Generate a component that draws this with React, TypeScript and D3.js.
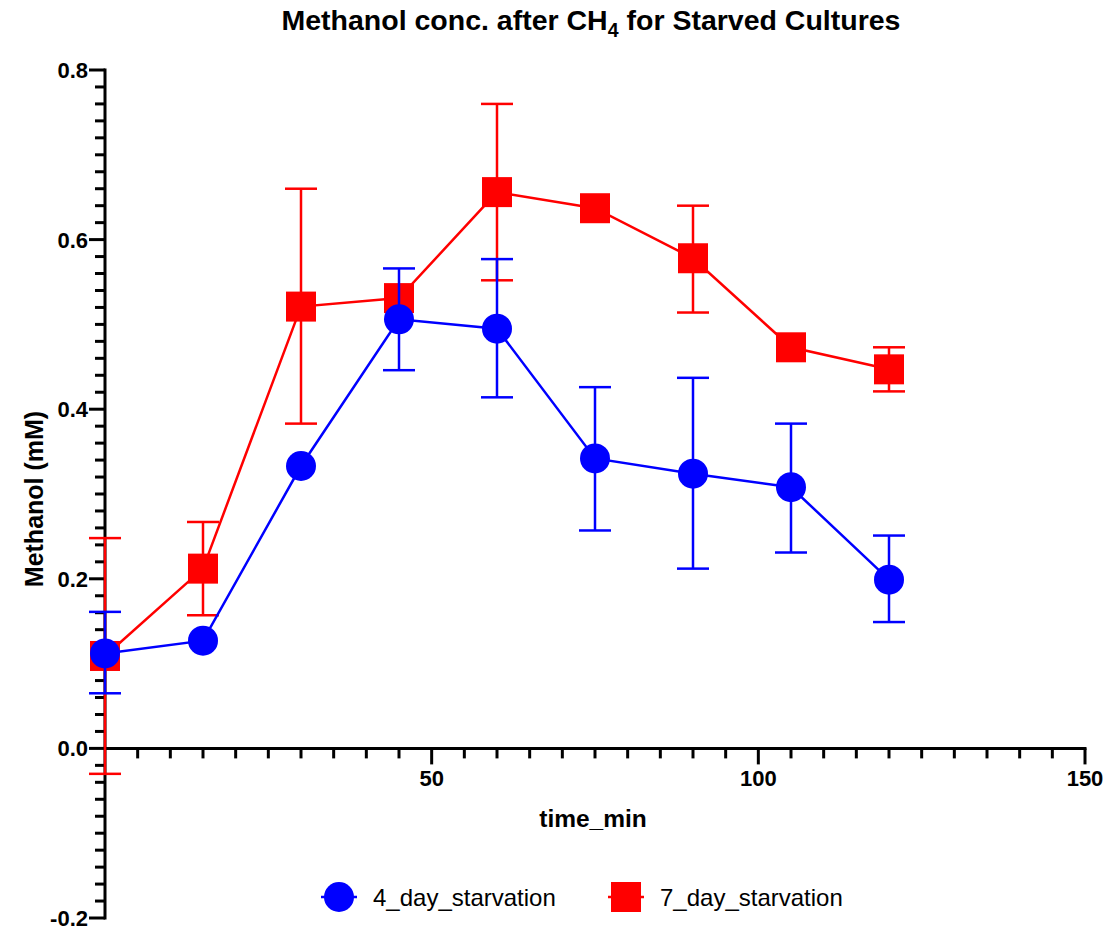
import React from 'react';
import * as d3 from 'd3';

// time points (min)
const times = [0, 15, 30, 45, 60, 75, 90, 105, 120];

// 4 day starvation: mean + error bar limits
const day4Mean = [0.112, 0.127, 0.333, 0.506, 0.495, 0.342, 0.324, 0.308, 0.199];
const day4Low = [0.065, 0.127, 0.333, 0.446, 0.414, 0.257, 0.212, 0.231, 0.149];
const day4High = [0.161, 0.127, 0.333, 0.566, 0.577, 0.426, 0.437, 0.383, 0.251];

// 7 day starvation
const day7Mean = [0.109, 0.212, 0.521, 0.531, 0.656, 0.637, 0.578, 0.473, 0.447];
const day7Low = [-0.03, 0.157, 0.383, 0.531, 0.552, 0.637, 0.514, 0.473, 0.421];
const day7High = [0.248, 0.267, 0.66, 0.531, 0.76, 0.637, 0.64, 0.473, 0.473];

const yTickLabels = ['-0.2', '0.0', '0.2', '0.4', '0.6', '0.8'];
const xTickLabels = ['50', '100', '150'];
const seriesNames = ['4_day_starvation', '7_day_starvation'];

const width = 1108;
const height = 932;
const font = '"Liberation Sans", Arial, Helvetica, sans-serif';

const App = () => {
  const x = d3.scaleLinear().domain([0, 150]).range([105, 1085]);
  const y = d3.scaleLinear().domain([-0.2, 0.8]).range([918, 70]);

  const line = d3.line<number>()
    .x((d, i) => x(times[i]))
    .y(d => y(d));

  const series = [
    { name: seriesNames[1], color: '#ff0000', mean: day7Mean, low: day7Low, high: day7High, shape: 'square' },
    { name: seriesNames[0], color: '#0000ff', mean: day4Mean, low: day4Low, high: day4High, shape: 'circle' },
  ];

  const yMinor = d3.range(-0.2, 0.8001, 0.02);
  const xMinor = d3.range(5, 150.01, 5);
  const capW = 16;
  const r = 15;

  const marker = (shape, color, cx, cy, key?) =>
    shape === 'circle'
      ? <circle key={key} cx={cx} cy={cy} r={r} fill={color} />
      : <rect key={key} x={cx - r} y={cy - r} width={2 * r} height={2 * r} fill={color} />;

  return (
    <div style={{ position: 'absolute', left: 0, top: 0 }}>
      <svg width={width} height={height} style={{ display: 'block', background: '#fff' }} fontFamily={font}>
        {/* title */}
        <text x={591} y={30} textAnchor="middle" fontSize={28.5} fontWeight="bold">
          Methanol conc. after CH<tspan dy={7} fontSize={19.5}>4</tspan><tspan dy={-7}> for Starved Cultures</tspan>
        </text>

        {/* y axis */}
        <g stroke="#000" strokeWidth={3}>
          <line x1={x(0)} x2={x(0)} y1={y(0.8) - 1.5} y2={y(-0.2) + 1.5} />
          {yMinor.map((v, i) => {
            const major = i % 10 === 0;
            return <line key={i} x1={x(0) - (major ? 16 : 10)} x2={x(0)} y1={y(v)} y2={y(v)} />;
          })}
        </g>
        {yTickLabels.map(t => (
          <text key={t} x={88} y={y(+t)} dy="0.36em" textAnchor="end" fontSize={22} fontWeight="bold">{t}</text>
        ))}

        {/* x axis */}
        <g stroke="#000" strokeWidth={3}>
          <line x1={x(0)} x2={x(150) + 1.5} y1={y(0)} y2={y(0)} />
          {xMinor.map((v, i) => {
            const major = v % 50 === 0;
            return <line key={i} x1={x(v)} x2={x(v)} y1={y(0)} y2={y(0) + (major ? 16 : 10)} />;
          })}
        </g>
        {xTickLabels.map(t => (
          <text key={t} x={x(+t)} y={786} textAnchor="middle" fontSize={22} fontWeight="bold">{t}</text>
        ))}

        {/* axis titles */}
        <text x={593} y={827} textAnchor="middle" fontSize={24.5} fontWeight="bold">time_min</text>
        <text transform={`translate(43,${499}) rotate(-90)`} textAnchor="middle" fontSize={25} fontWeight="bold">Methanol (mM)</text>

        {/* data */}
        {series.map(s => (
          <g key={s.name}>
            <path d={line(s.mean) || ''} fill="none" stroke={s.color} strokeWidth={2.5} />
            <g stroke={s.color} strokeWidth={2.5}>
              {times.map((t, i) => s.high[i] - s.low[i] > 0.001 && (
                <g key={i}>
                  <line x1={x(t)} x2={x(t)} y1={y(s.high[i])} y2={y(s.low[i])} />
                  <line x1={x(t) - capW} x2={x(t) + capW} y1={y(s.high[i])} y2={y(s.high[i])} />
                  <line x1={x(t) - capW} x2={x(t) + capW} y1={y(s.low[i])} y2={y(s.low[i])} />
                </g>
              ))}
            </g>
            {times.map((t, i) => marker(s.shape, s.color, x(t), y(s.mean[i]), i))}
          </g>
        ))}

        {/* legend */}
        {[series[1], series[0]].map((s, i) => {
          const lx = i === 0 ? 339 : 626;
          return (
            <g key={s.name}>
              <line x1={lx - 18} x2={lx + 18} y1={897} y2={897} stroke={s.color} strokeWidth={2.5} />
              {marker(s.shape, s.color, lx, 897)}
              <text x={lx + 34} y={897} dy="0.36em" fontSize={24}>{s.name}</text>
            </g>
          );
        })}
      </svg>
    </div>
  );
};

export default App;
